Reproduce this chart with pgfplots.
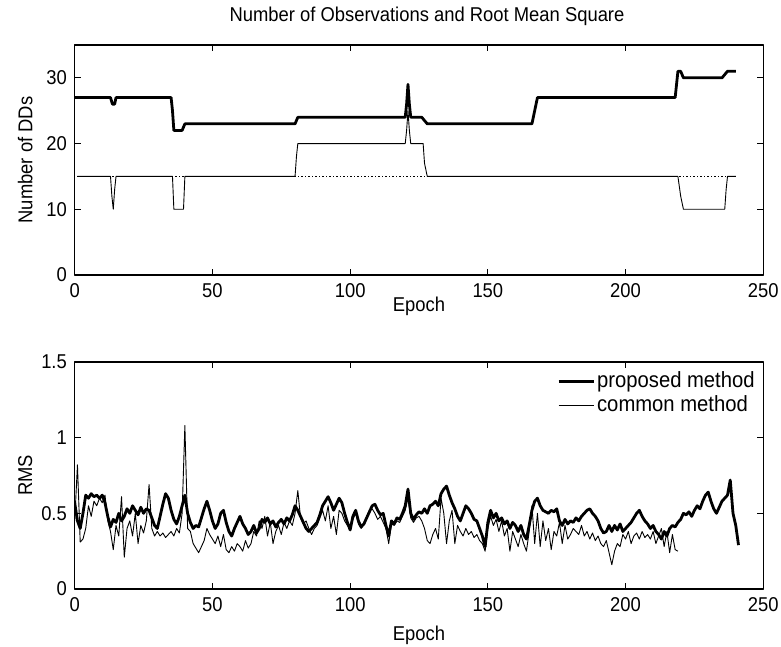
\documentclass[border=0pt]{standalone}
\usepackage{pgfplots}
\pgfplotsset{compat=1.18}
\usepackage{fontspec}
\setmainfont{Liberation Sans}[FakeStretch=0.92]

\pgfplotstableread{
x y
0 0.57
1 0.45
2 0.40
3 0.50
4 0.62
5 0.60
6 0.63
7 0.61
8 0.62
9 0.60
10 0.62
11 0.57
12 0.48
13 0.41
14 0.46
15 0.44
16 0.50
17 0.45
18 0.48
19 0.53
20 0.50
21 0.55
22 0.52
23 0.49
24 0.54
25 0.50
26 0.53
27 0.52
28 0.47
29 0.42
30 0.40
31 0.48
32 0.56
33 0.63
34 0.60
35 0.52
36 0.46
37 0.43
38 0.48
39 0.55
40 0.62
41 0.50
42 0.44
43 0.40
44 0.42
45 0.41
46 0.47
47 0.53
48 0.58
49 0.52
50 0.45
51 0.40
52 0.43
53 0.50
54 0.52
55 0.44
56 0.38
57 0.35
58 0.40
59 0.44
60 0.48
61 0.43
62 0.40
63 0.36
64 0.38
65 0.42
66 0.37
67 0.40
68 0.46
69 0.44
70 0.47
71 0.43
72 0.45
73 0.41
74 0.44
75 0.46
76 0.43
77 0.47
78 0.45
79 0.49
80 0.55
81 0.52
82 0.48
83 0.44
84 0.40
85 0.38
86 0.40
87 0.42
88 0.44
89 0.49
90 0.55
91 0.58
92 0.61
93 0.57
94 0.52
95 0.56
96 0.60
97 0.57
98 0.50
99 0.44
100 0.39
101 0.48
102 0.52
103 0.45
104 0.41
105 0.43
106 0.47
107 0.51
108 0.55
109 0.56
110 0.52
111 0.49
112 0.50
113 0.42
114 0.35
115 0.45
116 0.43
117 0.47
118 0.46
119 0.50
120 0.55
121 0.66
122 0.50
123 0.46
124 0.49
125 0.51
126 0.50
127 0.53
128 0.50
129 0.55
130 0.56
131 0.58
132 0.55
133 0.63
134 0.66
135 0.68
136 0.62
137 0.57
138 0.53
139 0.48
140 0.45
141 0.50
142 0.55
143 0.53
144 0.50
145 0.46
146 0.45
147 0.40
148 0.35
149 0.28
150 0.44
151 0.52
152 0.47
153 0.50
154 0.45
155 0.47
156 0.43
157 0.45
158 0.40
159 0.44
160 0.42
161 0.38
162 0.42
163 0.36
164 0.33
165 0.42
166 0.52
167 0.58
168 0.60
169 0.55
170 0.52
171 0.51
172 0.50
173 0.52
174 0.51
175 0.53
176 0.45
177 0.42
178 0.46
179 0.43
180 0.45
181 0.44
182 0.47
183 0.45
184 0.48
185 0.50
186 0.52
187 0.53
188 0.50
189 0.48
190 0.45
191 0.40
192 0.37
193 0.38
194 0.42
195 0.38
196 0.42
197 0.39
198 0.43
199 0.38
200 0.40
201 0.42
202 0.44
203 0.47
204 0.50
205 0.52
206 0.48
207 0.45
208 0.43
209 0.40
210 0.42
211 0.38
212 0.36
213 0.33
214 0.38
215 0.35
216 0.40
217 0.42
218 0.41
219 0.44
220 0.46
221 0.50
222 0.49
223 0.51
224 0.48
225 0.52
226 0.55
227 0.53
228 0.58
229 0.62
230 0.64
231 0.58
232 0.53
233 0.50
234 0.54
235 0.58
236 0.60
237 0.62
238 0.72
239 0.50
240 0.42
241 0.29
}\proposed

\pgfplotstableread{
x y
0 0.45
1 0.82
2 0.31
3 0.33
4 0.40
5 0.55
6 0.48
7 0.58
8 0.55
9 0.60
10 0.57
11 0.62
12 0.45
13 0.38
14 0.26
15 0.42
16 0.35
17 0.61
18 0.21
19 0.40
20 0.45
21 0.35
22 0.50
23 0.30
24 0.42
25 0.37
26 0.45
27 0.69
28 0.40
29 0.35
30 0.38
31 0.35
32 0.37
33 0.34
34 0.36
35 0.38
36 0.35
37 0.40
38 0.37
39 0.50
40 1.08
41 0.40
42 0.38
43 0.30
44 0.27
45 0.24
46 0.28
47 0.32
48 0.40
49 0.36
50 0.33
51 0.30
52 0.35
53 0.28
54 0.36
55 0.26
56 0.24
57 0.28
58 0.25
59 0.30
60 0.28
61 0.25
62 0.32
63 0.27
64 0.30
65 0.38
66 0.35
67 0.45
68 0.40
69 0.48
70 0.35
71 0.44
72 0.30
73 0.38
74 0.42
75 0.36
76 0.44
77 0.40
78 0.45
79 0.42
80 0.50
81 0.65
82 0.47
83 0.43
84 0.45
85 0.40
86 0.36
87 0.40
88 0.42
89 0.47
90 0.52
91 0.45
92 0.55
93 0.40
94 0.48
95 0.36
96 0.52
97 0.50
98 0.45
99 0.42
100 0.40
101 0.46
102 0.50
103 0.43
104 0.40
105 0.44
106 0.48
107 0.52
108 0.53
109 0.50
110 0.46
111 0.48
112 0.44
113 0.40
114 0.30
115 0.43
116 0.42
117 0.45
118 0.44
119 0.48
120 0.52
121 0.60
122 0.47
123 0.44
124 0.47
125 0.48
126 0.45
127 0.40
128 0.32
129 0.30
130 0.36
131 0.40
132 0.33
133 0.60
134 0.50
135 0.30
136 0.45
137 0.52
138 0.30
139 0.42
140 0.38
141 0.35
142 0.40
143 0.36
144 0.38
145 0.34
146 0.36
147 0.32
148 0.30
149 0.25
150 0.40
151 0.48
152 0.42
153 0.46
154 0.38
155 0.45
156 0.35
157 0.40
158 0.25
159 0.38
160 0.33
161 0.28
162 0.36
163 0.30
164 0.25
165 0.38
166 0.55
167 0.30
168 0.50
169 0.28
170 0.45
171 0.32
172 0.40
173 0.26
174 0.38
175 0.35
176 0.44
177 0.30
178 0.42
179 0.33
180 0.36
181 0.40
182 0.38
183 0.36
184 0.42
185 0.35
186 0.38
187 0.33
188 0.37
189 0.32
190 0.35
191 0.30
192 0.28
193 0.32
194 0.24
195 0.16
196 0.25
197 0.30
198 0.28
199 0.36
200 0.33
201 0.38
202 0.30
203 0.35
204 0.37
205 0.33
206 0.38
207 0.34
208 0.36
209 0.33
210 0.38
211 0.30
212 0.35
213 0.40
214 0.28
215 0.38
216 0.24
217 0.36
218 0.26
219 0.25
}\common

\begin{document}
\fontsize{20}{23}\selectfont
\begin{tikzpicture}[x=1pt,y=1pt]
\path[use as bounding box] (0,0) rectangle (781,647);
\pgfplotsset{
  myaxis/.style={
    scale only axis, width=688.6pt,
    xmin=0, xmax=250, xtick={0,50,...,250},
    tick align=inside, tick pos=both,
    xticklabel pos=lower, yticklabel pos=left,
    major tick length=6pt,
    axis line style={line width=1.2pt},
    every tick/.style={black, line width=1.2pt},
    /pgf/number format/assume math mode=true,
    /pgf/number format/fixed,
    xticklabel style={yshift=-2pt},
    yticklabel style={xshift=-1pt},
    xlabel={Epoch},
    ylabel style={at={(axis description cs:-0.072,0.5)}, anchor=center, rotate=0},
    line join=round,
  }
}
\begin{axis}[myaxis, height=230pt, at={(74.7pt,372pt)}, anchor=south west,
  ymin=0, ymax=35, ytick={0,10,20,30},
  ylabel={Number of DDs},
  xlabel style={at={(axis description cs:0.5,0)}, anchor=center, yshift=-31pt},
  title={Number of Observations and Root Mean Square},
  title style={yshift=6pt, xshift=8pt}]
\addplot[black, line width=0.9pt, dash pattern=on 2pt off 2pt on 1pt off 2pt] coordinates {(1,15) (240,15)};
\addplot[black, line width=0.9pt] coordinates {
(1,15)(13,15)(13.5,12)(14,10)(14.5,13)(15,15)(35.5,15)(36,10)(39.5,10)(40,15)
(80,15)(80.5,18)(81,20)(120,20)(120.5,22)(121,25)(121.5,22)(122,20)(126.5,20)(127,17)(128,15)
(219,15)(220,12)(221,10)(236,10)(236.5,13)(237,15)(240,15)};
\addplot[black, line width=2.8pt] coordinates {
(0,27)(13,27)(13.7,26)(14.5,26)(15,27)(35,27)(35.5,25)(36,22)(39,22)(40,23)
(80,23)(81,24)(120,24)(120.5,26)(121,29)(121.5,26)(122,24)(126,24)(128,23)
(166,23)(167,25)(168,27)(218,27)(218.5,29)(219,31)(220,31)(221,30)(235,30)(236,30.5)(237,31)(240,31)};
\end{axis}

\begin{axis}[myaxis, height=227pt, at={(74.7pt,58pt)}, anchor=south west,
  ymin=0, ymax=1.5, ytick={0,0.5,1,1.5},
  ylabel={RMS},
  xlabel style={at={(axis description cs:0.5,0)}, anchor=center, yshift=-46pt},
  legend style={draw=none, fill=none, at={(axis description cs:0.995,0.975)}, anchor=north east,
    row sep=1pt, font=\fontsize{22}{25}\selectfont},
  legend cell align=left,
  legend image code/.code={\draw[#1] (0pt,0pt) -- (35pt,0pt);}]
\addplot[black, line width=2.8pt] table[x=x,y=y] {\proposed};
\addlegendentry{proposed method}
\addplot[black, line width=0.9pt] table[x=x,y=y] {\common};
\addlegendentry{common method}
\end{axis}
\end{tikzpicture}
\end{document}
